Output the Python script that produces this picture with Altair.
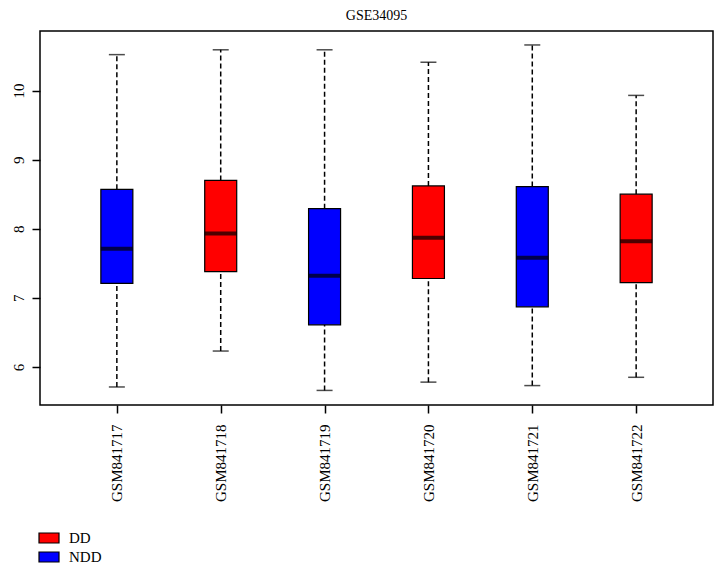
import altair as alt
import pandas as pd

samples = ["GSM841717", "GSM841718", "GSM841719", "GSM841720", "GSM841721", "GSM841722"]
groups = ["NDD", "DD", "NDD", "DD", "NDD", "DD"]
lower = [5.71, 6.23, 5.66, 5.78, 5.73, 5.85]
q1 = [7.21, 7.38, 6.61, 7.28, 6.87, 7.22]
median = [7.71, 7.93, 7.32, 7.87, 7.58, 7.82]
q3 = [8.57, 8.70, 8.29, 8.62, 8.61, 8.50]
upper = [10.52, 10.59, 10.59, 10.41, 10.66, 9.93]

group_names = ["DD", "NDD"]
group_colors = ["#ff0000", "#0000ff"]
y_ticks = [6, 7, 8, 9, 10]

df = pd.DataFrame({
    "sample": samples, "group": groups, "lower": lower, "q1": q1,
    "median": median, "q3": q3, "upper": upper,
})

FONT = "Liberation Serif"

x_enc = alt.X(
    "sample:N",
    sort=samples,
    scale=alt.Scale(type="point", padding=0.74),
    axis=alt.Axis(
        title=None, labelAngle=-90, labelAlign="right", labelBaseline="middle",
        labelFont=FONT, labelFontSize=15, labelColor="black", labelPadding=11,
        tickSize=8, tickWidth=1.5, tickColor="black", domain=False, grid=False,
    ),
)
y_scale = alt.Scale(domain=[5.449, 10.862], nice=False, zero=False)
y_axis = alt.Axis(
    title=None, values=y_ticks, labelAngle=-90, labelAlign="center",
    labelBaseline="bottom", labelFont=FONT, labelFontSize=15, labelColor="black",
    labelPadding=6, tickSize=8, tickWidth=1.5, tickColor="black",
    domain=False, grid=False,
)

base = alt.Chart(df)

whisk_hi = base.mark_rule(color="black", strokeWidth=1.5, strokeDash=[5, 3]).encode(
    x=x_enc, y=alt.Y("q3:Q", scale=y_scale, axis=y_axis), y2="upper:Q")
whisk_lo = base.mark_rule(color="black", strokeWidth=1.5, strokeDash=[5, 3]).encode(
    x=x_enc, y=alt.Y("lower:Q", scale=y_scale, axis=y_axis), y2="q1:Q")
cap_hi = base.mark_tick(color="black", size=16, thickness=1.5).encode(
    x=x_enc, y=alt.Y("upper:Q", scale=y_scale, axis=y_axis))
cap_lo = base.mark_tick(color="black", size=16, thickness=1.5).encode(
    x=x_enc, y=alt.Y("lower:Q", scale=y_scale, axis=y_axis))
box = base.mark_bar(size=32, stroke="black", strokeWidth=1.2, opacity=1).encode(
    x=x_enc,
    y=alt.Y("q1:Q", scale=y_scale, axis=y_axis),
    y2="q3:Q",
    fill=alt.Fill(
        "group:N",
        scale=alt.Scale(domain=group_names, range=group_colors),
        legend=alt.Legend(
            title=None, orient="none", legendX=-2, legendY=496,
            symbolType="M-1,-0.5H1V0.5H-1Z", symbolSize=400,
            symbolStrokeColor="black", symbolStrokeWidth=1.2, symbolOpacity=1,
            labelFont=FONT, labelFontSize=15, labelColor="black",
            labelOffset=9, rowPadding=0,
        ),
    ),
)
med = base.mark_tick(color="black", size=32, thickness=4).encode(
    x=x_enc, y=alt.Y("median:Q", scale=y_scale, axis=y_axis))

chart = alt.layer(whisk_hi, whisk_lo, cap_hi, cap_lo, box, med).properties(
    width=673, height=374,
    title=alt.Title("GSE34095", font=FONT, fontSize=14, fontWeight="normal",
                    color="black", anchor="middle", offset=8),
    autosize=alt.AutoSizeParams(type="none"),
    padding={"left": 32, "top": 23, "right": 4, "bottom": 166},
).configure(
    background="white",
    view=alt.ViewConfig(stroke="black", strokeWidth=1.5),
)

chart.save("out.html", embed_options={"renderer": "svg", "actions": False})
